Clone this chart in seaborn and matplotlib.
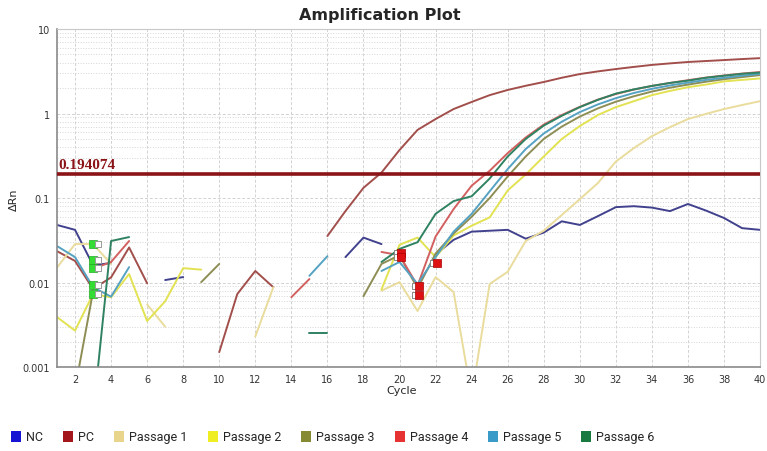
import numpy as np
import pandas as pd
import matplotlib
matplotlib.use("Agg")
import matplotlib.pyplot as plt
import matplotlib.ticker as mticker
from matplotlib.patches import Patch
import seaborn as sns

nan = np.nan

# ---------------------------------------------------------
# Data (delta Rn per cycle)
# ---------------------------------------------------------
cycles = list(range(1, 41))
samples = ['NC', 'PC', 'Passage 1', 'Passage 2', 'Passage 3',
           'Passage 4', 'Passage 5', 'Passage 6']

nc = [0.048, 0.042, 0.016, 0.017, nan, nan, 0.0107, 0.0116, nan, nan,
      nan, nan, nan, nan, nan, nan, 0.020, 0.034, 0.0285, nan,
      nan, 0.0215, 0.032, 0.040, 0.041, 0.042, 0.033, 0.039, 0.053, 0.048,
      0.061, 0.078, 0.080, 0.077, 0.070, 0.085, 0.071, 0.058, 0.044, 0.042]

pc = [0.0235, 0.018, 0.0084, 0.0115, 0.026, 0.0098, nan, nan, nan, 0.0015,
      0.0073, 0.0137, 0.0088, nan, nan, 0.0355, 0.07, 0.132, 0.2, 0.37,
      0.64, 0.86, 1.13, 1.37, 1.65, 1.9, 2.13, 2.36, 2.65, 2.93,
      3.15, 3.36, 3.56, 3.76, 3.92, 4.07, 4.18, 4.29, 4.41, 4.52]

passage1 = [0.015, 0.0285, 0.0285, 0.0166, nan, 0.0055, 0.003, nan, nan, nan,
            nan, 0.0023, 0.0088, nan, nan, nan, nan, nan, 0.008, 0.0101,
            0.0046, 0.0116, 0.0077, 0.00045, 0.0096, 0.0134, 0.031, 0.041, 0.063, 0.097,
            0.15, 0.27, 0.39, 0.54, 0.69, 0.86, 0.99, 1.13, 1.26, 1.4]

passage2 = [0.0039, 0.0027, 0.0073, 0.0067, 0.0126, 0.0035, 0.006, 0.0148, 0.0142, nan,
            nan, nan, nan, nan, nan, nan, nan, nan, 0.0083, 0.028,
            0.034, 0.020, 0.036, 0.047, 0.059, 0.123, 0.19, 0.31, 0.50, 0.71,
            0.96, 1.19, 1.4, 1.65, 1.85, 2.05, 2.2, 2.4, 2.5, 2.6]

passage3 = [nan, 0.00055, 0.0078, nan, nan, nan, nan, nan, 0.0101, 0.0166,
            nan, nan, nan, nan, nan, nan, nan, 0.0069, 0.0166, 0.021,
            0.0085, 0.022, 0.038, 0.06, 0.1, 0.18, 0.31, 0.5, 0.7, 0.92,
            1.15, 1.38, 1.6, 1.82, 2.02, 2.2, 2.38, 2.55, 2.7, 2.85]

passage4 = [nan, nan, 0.0145, 0.0175, 0.031, nan, nan, nan, nan, nan,
            nan, nan, nan, 0.0067, 0.011, nan, nan, nan, 0.023, 0.021,
            0.0092, 0.035, 0.074, 0.14, 0.21, 0.34, 0.52, 0.74, 0.96, 1.2,
            1.46, 1.7, 1.92, 2.12, 2.3, 2.48, 2.66, 2.82, 2.97, 3.1]

passage5 = [0.027, 0.020, 0.0088, 0.0068, 0.0152, nan, nan, nan, nan, nan,
            nan, nan, nan, nan, 0.012, 0.0205, nan, nan, 0.0137, 0.0175,
            0.0096, 0.020, 0.04, 0.065, 0.12, 0.22, 0.38, 0.58, 0.8, 1.04,
            1.28, 1.52, 1.75, 1.96, 2.15, 2.32, 2.5, 2.65, 2.8, 2.95]

passage6 = [nan, nan, 0.00027, 0.031, 0.0345, nan, nan, nan, nan, nan,
            nan, nan, nan, nan, 0.0025, 0.0025, nan, nan, 0.0175, 0.025,
            0.030, 0.065, 0.092, 0.105, 0.17, 0.31, 0.5, 0.72, 0.94, 1.19,
            1.45, 1.72, 1.93, 2.12, 2.3, 2.45, 2.65, 2.8, 2.95, 3.05]

threshold = 0.194074

# baseline (green) and Ct (red) flags drawn by the instrument software
green_flag_x = [3, 3, 3, 3, 3]
green_flag_y = [0.0285, 0.0185, 0.0149, 0.0094, 0.0073]
red_flag_x = [20, 20, 21, 21, 22]
red_flag_y = [0.0222, 0.0200, 0.0091, 0.0071, 0.0170]

# line colours (muted like the screenshot) and legend swatch colours
line_colors = ['#41418e', '#a24f4c', '#e9dc9c', '#e2e252', '#8d8d55',
               '#d26060', '#55a2c2', '#2f8262']
legend_colors = ['#1414d2', '#a3161c', '#e8d48a', '#eeee22', '#868a32',
                 '#e63232', '#3a9ac8', '#197a40']

# ---------------------------------------------------------
# Long table, one "segment" id per unbroken run so gaps stay gaps
# ---------------------------------------------------------
series = [nc, pc, passage1, passage2, passage3, passage4, passage5, passage6]
rows = []
for name, vals in zip(samples, series):
    seg = 0
    prev_nan = True
    for c, v in zip(cycles, vals):
        if np.isnan(v):
            prev_nan = True
            continue
        if prev_nan:
            seg += 1
        prev_nan = False
        rows.append({'Cycle': c, 'dRn': v, 'Sample': name, 'segment': f'{name}-{seg}'})
df = pd.DataFrame(rows)

# ---------------------------------------------------------
# Plot
# ---------------------------------------------------------
sns.set_style('white')
fig = plt.figure(figsize=(7.67, 4.52), dpi=100)
ax = fig.add_axes([0.0743, 0.1858, 0.9167, 0.7478])
ax.set_yscale('log')

sns.lineplot(data=df, x='Cycle', y='dRn', hue='Sample', units='segment',
             estimator=None, palette=dict(zip(samples, line_colors)),
             hue_order=samples, linewidth=1.4, legend=False, ax=ax)

ax.axhline(threshold, color='#8b1418', linewidth=2.6, zorder=5)
ax.text(1.05, threshold * 1.07, f'{threshold:g}', color='#8b1418',
        fontsize=11, fontweight='bold', family='Liberation Serif',
        va='bottom', ha='left', zorder=6)

# flags
ax.scatter(green_flag_x, green_flag_y, marker='s', s=26, color='#33dd33',
           edgecolor='#22aa22', linewidth=0.5, zorder=7)
ax.scatter([x + 0.3 for x in green_flag_x], green_flag_y, marker='s', s=20,
           facecolor='white', edgecolor='#999999', linewidth=0.7, zorder=7)
ax.scatter([x + 0.1 for x in red_flag_x], red_flag_y, marker='s', s=26,
           color='#dd1111', edgecolor='#aa0000', linewidth=0.5, zorder=7)
ax.scatter([x - 0.15 for x in red_flag_x], red_flag_y, marker='s', s=20,
           facecolor='white', edgecolor='#888888', linewidth=0.7, zorder=6)

ax.set_xlim(1, 40)
ax.set_ylim(0.001, 10)
ax.set_xticks(range(2, 41, 2))
ax.yaxis.set_major_formatter(mticker.FuncFormatter(lambda v, p: f'{v:g}'))
ax.yaxis.set_minor_formatter(mticker.NullFormatter())
ax.tick_params(axis='both', which='major', labelsize=7, colors='#333333',
               length=3, width=0.6, pad=2)
ax.tick_params(axis='y', which='minor', length=0)

ax.grid(which='major', axis='both', linestyle=(0, (3, 2)), color='#d2d2d2', linewidth=0.7)
ax.yaxis.grid(which='minor', linestyle=':', color='#d6d6d6', linewidth=0.7)
ax.set_axisbelow(True)
for side in ['top', 'right']:
    ax.spines[side].set_color('#c8c8c8')
    ax.spines[side].set_linewidth(0.8)
for side in ['left', 'bottom']:
    ax.spines[side].set_color('#8a8a8a')
    ax.spines[side].set_linewidth(1.2)

ax.set_xlabel('')
ax.set_ylabel('')
fig.text(0.495, 0.966, 'Amplification Plot', ha='center', va='center',
         fontsize=11.5, fontweight='bold')
fig.text(0.018, 0.557, 'ΔRn', rotation=90, ha='center', va='center', fontsize=8)
fig.text(0.523, 0.135, 'Cycle', ha='center', va='center', fontsize=8)

handles = [Patch(facecolor=c, edgecolor='none') for c in legend_colors]
fig.legend(handles, samples, loc='center left', bbox_to_anchor=(0.0, 0.031),
           ncol=8, frameon=False, handlelength=0.8, handleheight=1.0,
           handletextpad=0.4, columnspacing=1.6,
           prop={'family': ['Liberation Sans Narrow', 'Roboto', 'DejaVu Sans'], 'size': 9})

fig.savefig('out.png', dpi=100)
